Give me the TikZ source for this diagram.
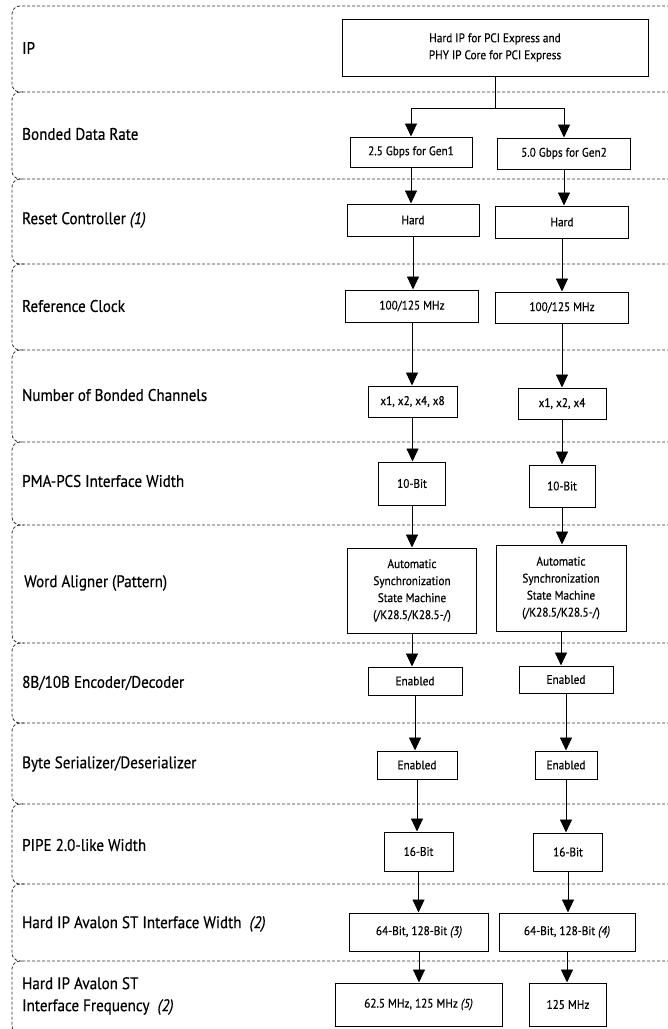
\documentclass[tikz,border=0pt]{standalone}
\usepackage{fontspec}
\setmainfont{PT Sans}[FakeStretch=0.9,FakeBold=0.4]
\usetikzlibrary{arrows.meta}
\begin{document}
\begin{tikzpicture}[x=1pt,y=-1pt,
  band/.style={draw=black!80, dashed, dash pattern=on 3pt off 2pt, line width=0.8pt, rounded corners=8pt},
  lbl/.style={anchor=west, inner sep=0pt, font=\fontsize{16.8}{22}\selectfont, align=left},
  box/.style={draw, line width=1pt, inner sep=0pt, font=\fontsize{12.5}{17}\selectfont, align=center},
  arr/.style={-{Triangle[width=12pt,length=13pt]}, line width=0.9pt},
  ln/.style={line width=0.9pt}]
\useasboundingbox (0,0) rectangle (668,1029);
\clip (0,0) rectangle (668,1029);
\fill[white] (0,0) rectangle (668,1029);
% bands
\foreach \a/\b in {6/92,92/179,179/264,264/350,350/442,442/525,525/643,643/723,723/804,804/884,884/961,961/1034}{
  \draw[band] (720,\a) -- (12,\a) -- (12,\b) -- (24,\b);
}
% labels
\node[lbl] (l1) at (22,48) {IP};
\node[lbl] (l2) at (22,134) {Bonded Data Rate};
\node[lbl] (l3) at (22,220) {Reset Controller \textit{(1)}};
\node[lbl] (l4) at (22,306) {Reference Clock};
\node[lbl] (l5) at (22,395) {Number of Bonded Channels};
\node[lbl] (l6) at (22,481) {PMA-PCS Interface Width};
\node[lbl] (l7) at (24,583) {Word Aligner (Pattern)};
\node[lbl] (l8) at (22,683) {8B/10B Encoder/Decoder};
\node[lbl] (l9) at (22,764) {Byte Serializer/Deserializer};
\node[lbl] (l10) at (22,845) {PIPE 2.0-like Width};
\node[lbl] (l11) at (22,924) {Hard IP Avalon ST Interface Width~~\textit{(2)}};
\node[lbl] (l12) at (22,996) {Hard IP Avalon ST\\Interface Frequency~~\textit{(2)}};
% boxes
\node[box,minimum width=306pt,minimum height=57pt] (ip) at (495,47.5) {Hard IP for PCI Express and\\PHY IP Core for PCI Express};
\node[box,minimum width=122pt,minimum height=30pt] (br1) at (411,152) {2.5 Gbps for Gen1};
\node[box,minimum width=133pt,minimum height=31pt] (br2) at (564,153.5) {5.0 Gbps for Gen2};
\node[box,minimum width=132pt,minimum height=32pt] (rc1) at (413,220) {Hard};
\node[box,minimum width=133pt,minimum height=32pt] (rc2) at (562,222) {Hard};
\node[box,minimum width=133pt,minimum height=32pt] (ck1) at (412,306) {100/125 MHz};
\node[box,minimum width=133pt,minimum height=31pt] (ck2) at (562,307.5) {100/125 MHz};
\node[box,minimum width=89pt,minimum height=31pt] (nc1) at (412.5,401.5) {x1, x2, x4, x8};
\node[box,minimum width=88pt,minimum height=31pt] (nc2) at (562,403.5) {x1, x2, x4};
\node[box,minimum width=67pt,minimum height=43pt] (pw1) at (412,483.5) {10-Bit};
\node[box,minimum width=66pt,minimum height=42pt] (pw2) at (562,486) {10-Bit};
\node[box,minimum width=129pt,minimum height=85pt] (wa1) at (412,590.5) {Automatic\\Synchronization\\State Machine\\(/K28.5/K28.5-/)};
\node[box,minimum width=130pt,minimum height=86pt] (wa2) at (561,588) {Automatic\\Synchronization\\State Machine\\(/K28.5/K28.5-/)};
\node[box,minimum width=94pt,minimum height=28pt] (en1) at (415,681) {Enabled};
\node[box,minimum width=94pt,minimum height=27pt] (en2) at (566,679.5) {Enabled};
\node[box,minimum width=80pt,minimum height=28pt] (bs1) at (417,765) {Enabled};
\node[box,minimum width=62pt,minimum height=28pt] (bs2) at (566,765) {Enabled};
\node[box,minimum width=69pt,minimum height=39pt] (pp1) at (418.5,851.5) {16-Bit};
\node[box,minimum width=69pt,minimum height=38pt] (pp2) at (568,852) {16-Bit};
\node[box,minimum width=139pt,minimum height=38pt] (aw1) at (419,932) {64-Bit, 128-Bit~\textit{(3)}};
\node[box,minimum width=136pt,minimum height=38pt] (aw2) at (567,932) {64-Bit, 128-Bit~\textit{(4)}};
\node[box,minimum width=167pt,minimum height=43pt] (af1) at (418.5,1004.5) {62.5 MHz, 125 MHz~\textit{(5)}};
\node[box,minimum width=77pt,minimum height=43pt] (af2) at (568,1004.5) {125 MHz};
% connectors
\coordinate (j) at (495,108);
\draw[ln] (ip.south) -- (j);
\draw[arr] (j) -| (br1.north);
\draw[arr] (j) -| (br2.north);
\foreach \s/\t in {br1/rc1,rc1/ck1,ck1/nc1,nc1/pw1,pw1/wa1,wa1/en1,en1/bs1,bs1/pp1,pp1/aw1,aw1/af1,
                   br2/rc2,rc2/ck2,ck2/nc2,nc2/pw2,pw2/wa2,wa2/en2,en2/bs2,bs2/pp2,pp2/aw2,aw2/af2}{
  \draw[arr] (\s.south) -- (\s.south |- \t.north);
}
\end{tikzpicture}
\end{document}
